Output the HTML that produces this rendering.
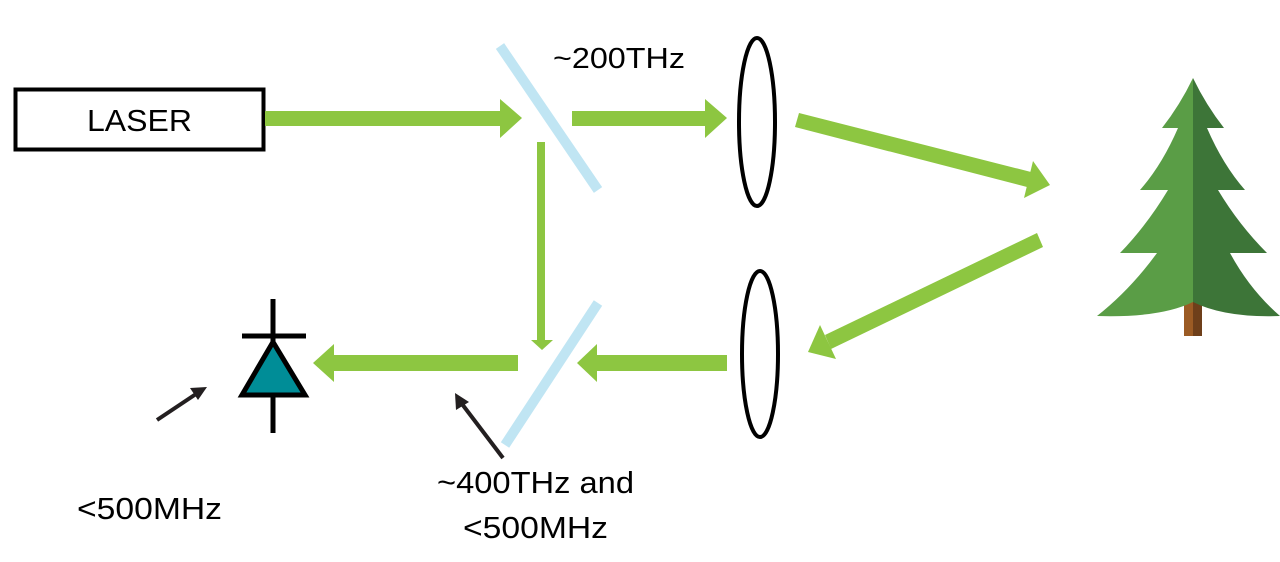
<!DOCTYPE html>
<html><head><meta charset="utf-8"><style>html,body{margin:0;padding:0;background:#fff}svg{display:block}</style></head>
<body>
<svg width="1280" height="562" viewBox="0 0 1280 562" xmlns="http://www.w3.org/2000/svg" font-family="'Liberation Sans', sans-serif">
<rect x="15.5" y="89.5" width="248" height="60" fill="#fff" stroke="#000" stroke-width="4"/>
<text x="87" y="131" font-size="31" textLength="105" lengthAdjust="spacingAndGlyphs">LASER</text>
<g fill="#8dc641">
<rect x="265" y="111" width="236" height="15"/><polygon points="500,99 522,118 500,138"/>
<rect x="572" y="111" width="134" height="15"/><polygon points="705,99 727,118 705,138"/>
<rect x="537" y="142" width="8" height="199"/><polygon points="531,340 553,340 542,350"/>
<polygon points="595,355 727,355 727,371 595,371"/><polygon points="597,344 577,363 597,382"/>
<polygon points="333,355 518,355 518,371 333,371"/><polygon points="334,344 313,363 334,382"/>
<polygon points="799,113 1031,172 1027,187 795,127"/>
<polygon points="1033,161 1050,185 1024,198"/>
<polygon points="1037,233 1043,247 831,349 825,335"/>
<polygon points="808,352 820,325 836,359"/>
</g>
<line x1="500" y1="46" x2="598" y2="190" stroke="#c0e5f3" stroke-width="10"/>
<line x1="598" y1="303" x2="505" y2="445" stroke="#c0e5f3" stroke-width="10"/>
<ellipse cx="757" cy="122" rx="18" ry="84" fill="none" stroke="#000" stroke-width="4"/>
<ellipse cx="760" cy="354" rx="18" ry="83" fill="none" stroke="#000" stroke-width="4"/>
<text x="553" y="68" font-size="29" textLength="132" lengthAdjust="spacingAndGlyphs">~200THz</text>
<line x1="273" y1="299" x2="273" y2="433" stroke="#000" stroke-width="5"/>
<line x1="242" y1="336" x2="306" y2="336" stroke="#000" stroke-width="5"/>
<polygon points="273,342 242,395 305,395" fill="#008d97" stroke="#000" stroke-width="5" stroke-linejoin="miter"/>
<line x1="157" y1="420" x2="196" y2="394" stroke="#231f20" stroke-width="4"/>
<polygon points="207,387 190,388 198,400" fill="#231f20"/>
<line x1="503" y1="458" x2="462" y2="404" stroke="#231f20" stroke-width="4"/>
<polygon points="455,393 456,410 469,402" fill="#231f20"/>
<text x="77" y="519" font-size="31" textLength="145" lengthAdjust="spacingAndGlyphs">&lt;500MHz</text>
<text x="437" y="493" font-size="31" textLength="197" lengthAdjust="spacingAndGlyphs">~400THz and</text>
<text x="463" y="538" font-size="31" textLength="145" lengthAdjust="spacingAndGlyphs">&lt;500MHz</text>
<polygon points="1184,302 1202,302 1202,336 1184,336" fill="#9b5b24"/>
<polygon points="1193,302 1202,302 1202,336 1193,336" fill="#6e3f1a"/>
<path d="M1193,78 Q1180,105 1162,128 L1178,128 Q1162,165 1140,190 L1168,190 Q1147,225 1120,253 L1157,253 Q1130,290 1097,316 Q1160,318 1193,302 Z" fill="#5a9d46"/>
<path d="M1193,78 Q1206,105 1224,128 L1207,128 Q1223,165 1245,190 L1218,190 Q1239,225 1267,253 L1230,253 Q1250,290 1280,316 Q1225,318 1193,302 Z" fill="#3d7538"/>
</svg>
</body></html>
